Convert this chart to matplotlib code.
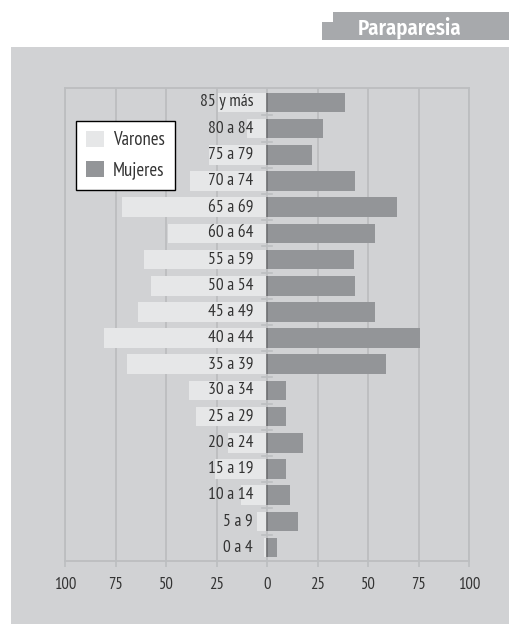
import matplotlib

matplotlib.use("Agg")
import matplotlib.pyplot as plt
from matplotlib.patches import Polygon, Rectangle, Patch

plt.rcParams["font.family"] = ["PT Sans Narrow", "DejaVu Sans"]

# age groups, bottom to top
age_groups = [
    "0 a 4", "5 a 9", "10 a 14", "15 a 19", "20 a 24", "25 a 29",
    "30 a 34", "35 a 39", "40 a 44", "45 a 49", "50 a 54", "55 a 59",
    "60 a 64", "65 a 69", "70 a 74", "75 a 79", "80 a 84", "85 y más",
]
varones = [1.8, 5.3, 13, 26, 19.5, 35.5, 39, 69.5, 81, 64, 57.5, 61,
           49, 72, 38.5, 29, 10, 24.5]
mujeres = [5, 15, 11, 9.5, 17.5, 9.5, 9.5, 59, 75.5, 53.5, 43.5, 43,
           53.5, 64, 43.5, 22, 27.5, 38.5]
x_ticks = [-100, -75, -50, -25, 0, 25, 50, 75, 100]
x_ticklabels = ["100", "75", "50", "25", "0", "25", "50", "75", "100"]

PANEL = "#d1d2d4"
GRID = "#bcbec0"
LIGHT = "#e6e7e8"
DARK = "#939598"
TITLE_BOX = "#a7a9ac"
TEXT = "#333333"

W, H = 509, 624
fig = plt.figure(figsize=(W / 100, H / 100), dpi=100)


def fx(px):
    return px / W


def fy(py):
    return 1 - py / H


# grey background panel and the stepped title tab (behind the axes)
fig.patches.append(Rectangle((fx(11), 0), 1 - fx(11), fy(47), transform=fig.transFigure,
                             facecolor=PANEL, edgecolor="none", zorder=-1))
tab = [(322, 40), (322, 22), (333, 22), (333, 12), (509, 12), (509, 40)]
fig.patches.append(Polygon([(fx(a), fy(b)) for a, b in tab], closed=True,
                           transform=fig.transFigure, facecolor=TITLE_BOX,
                           edgecolor="none", zorder=-1))
fig.text(fx(410), fy(28), "Paraparesia", color="white", fontsize=15,
         fontweight="semibold", ha="center", va="center",
         family=["Fira Sans Condensed", "DejaVu Sans"])

ax = fig.add_axes([fx(65.3), fy(560.7), fx(469.3) - fx(65.3), fy(88) - fy(560.7)])
ax.set_facecolor(PANEL)

y = list(range(len(age_groups)))
bar_h = 0.75
ax.barh(y, [-v for v in varones], height=bar_h, color=LIGHT, zorder=2)
ax.barh(y, mujeres, height=bar_h, color=DARK, zorder=2)
ax.vlines([0] * len(y), [i - bar_h / 2 for i in y], [i + bar_h / 2 for i in y],
          color="#6d6e71", linewidth=1.2, zorder=3)

for i, label in zip(y, age_groups):
    ax.text(-7, i, label, ha="right", va="center", fontsize=12.5, color=TEXT, zorder=4)

ax.set_xlim(-100, 100)
ax.set_ylim(-0.5, 17.55)
ax.set_xticks(x_ticks)
ax.set_xticklabels(x_ticklabels, fontsize=12, color=TEXT)
ax.tick_params(axis="x", length=4, width=1.2, color=GRID, pad=8)
ax.set_yticks([])
for i in y[:-1]:
    ax.plot([-2.5, 2.5], [i + 0.5, i + 0.5], color=GRID, linewidth=1.2, zorder=1.5)

ax.grid(axis="x", color=GRID, linewidth=1.3, zorder=1)
ax.set_axisbelow(True)
for side in ["top", "bottom", "left", "right"]:
    ax.spines[side].set_color(GRID)
    ax.spines[side].set_linewidth(1.3)

handles = [Patch(facecolor=LIGHT, edgecolor="none", label="Varones"),
           Patch(facecolor=DARK, edgecolor="none", label="Mujeres")]
leg = ax.legend(handles=handles, loc="upper left", bbox_to_anchor=(0.0265, 0.931),
                borderaxespad=0, fancybox=False, fontsize=13.5, handlelength=0.95,
                handleheight=0.95, handletextpad=0.45, labelspacing=0.6,
                borderpad=0.55, framealpha=1)
leg.get_frame().set_edgecolor("black")
leg.get_frame().set_linewidth(1.0)
for t in leg.get_texts():
    t.set_color(TEXT)

fig.savefig("out.png", dpi=100)
